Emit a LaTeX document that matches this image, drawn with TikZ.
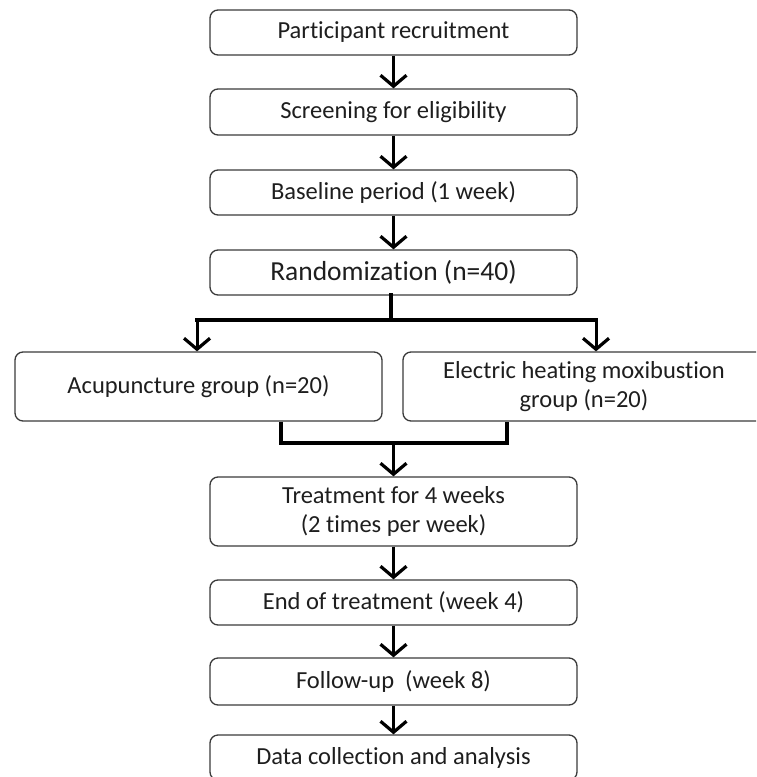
\documentclass[tikz,border=0pt]{standalone}
\usepackage{fontspec}
\setmainfont{Carlito}[Ligatures=NoCommon]
\usetikzlibrary{arrows.meta}
\definecolor{txt}{HTML}{1E1E1E}
\definecolor{edge}{HTML}{3A3A3A}
\begin{document}
\begin{tikzpicture}[x=1pt,y=-1pt,
  box/.style={draw=edge, line width=1.3pt, rounded corners=8pt, minimum width=367pt,
    minimum height=45pt, inner sep=2pt, align=center, text=txt,
    font=\fontsize{24.5}{29}\selectfont},
  arr/.style={line width=3pt, -{Straight Barb[length=11pt,width=26pt,line width=3.2pt]}},
  bar/.style={line width=4.5pt, line cap=rect}]
\useasboundingbox (0,0) rectangle (756,777);
\clip (0,0) rectangle (756,777);
\node[box] (b1) at (393.5,32.5) {Participant recruitment};
\node[box, minimum height=46pt] (b2) at (393.5,112) {Screening for eligibility};
\node[box] (b3) at (393.5,192.5) {Baseline period (1 week)};
\node[box, font=\fontsize{27.5}{32}\selectfont] (b4) at (393.5,272.5) {Randomization (n=40)};
\node[box, minimum height=69pt] (gl) at (198.5,386.5) {Acupuncture group (n=20)};
\node[box, minimum width=362pt, minimum height=69pt] (gr) at (584,386.5) {Electric heating moxibustion\\group (n=20)};
\node[box, minimum height=69pt] (tr) at (393.5,511.5) {Treatment for 4 weeks\\(2 times per week)};
\node[box] (en) at (393.5,602.5) {End of treatment (week 4)};
\node[box, minimum height=47pt] (fu) at (393.5,681.5) {Follow-up\ \ (week 8)};
\node[box] (da) at (393.5,757.5) {Data collection and analysis};
\draw[arr] (b1) -- (b2);
\draw[arr] (b2) -- (b3);
\draw[arr] (b3) -- (b4);
% split
\coordinate (sm) at (391,320);
\coordinate (sl) at (197,320);
\coordinate (sr) at (596,320);
\draw[bar] (b4.south -| sm) -- (sm);
\draw[bar] (sl) -- (sr);
\draw[arr] (sl) -- (sl |- gl.north);
\draw[arr] (sr) -- (sr |- gr.north);
% merge
\coordinate (ml) at (281,443);
\coordinate (mr) at (507,443);
\coordinate (mm) at (393.5,443);
\draw[line width=4.5pt] (gl.south -| ml) -- (ml) -- (mr) -- (gr.south -| mr);
\draw[arr] (mm) -- (tr.north);
\draw[arr] (tr) -- (en);
\draw[arr] (en) -- (fu);
\draw[arr] (fu) -- (da);
\end{tikzpicture}
\end{document}
